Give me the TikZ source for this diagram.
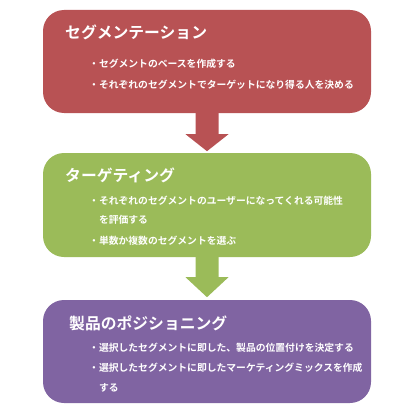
\documentclass[tikz,border=0pt]{standalone}
\usepackage{fontspec}
\newfontfamily\jp{Noto Sans CJK JP}[BoldFont={* Bold}]
\definecolor{segred}{HTML}{B85254}
\definecolor{tgtgreen}{HTML}{9BBB59}
\definecolor{pospurple}{HTML}{8064A2}
\begin{document}
\begin{tikzpicture}[x=1pt,y=-1pt,
  stagebox/.style={rounded corners=21pt, minimum width=328pt, minimum height=103pt, inner sep=0pt, draw=none},
  titletext/.style={anchor=west, inner sep=0pt, text=white, font=\jp\bfseries\fontsize{15.8}{18}\selectfont},
  itemtext/.style={anchor=west, inner sep=0pt, text=white, font=\jp\bfseries\fontsize{9.8}{12}\selectfont}]
\useasboundingbox (0,0) rectangle (408,417);
% boxes
\node[stagebox, fill=segred] (b1) at (207,61.5) {};
\node[stagebox, fill=tgtgreen, minimum height=104pt] (b2) at (207,205) {};
\node[stagebox, fill=pospurple] (b3) at (207,351.5) {};
% arrows
\fill[segred] ([xshift=-11.5pt]b1.south) -- ++(0,21) -- ++(-10,0) -- ++(21.5,17) -- ++(21.5,-17) -- ++(-10,0) -- ++(0,-21) -- cycle;
\fill[tgtgreen] ([xshift=-11.5pt]b2.south) -- ++(0,20) -- ++(-10,0) -- ++(21.5,20) -- ++(21.5,-20) -- ++(-10,0) -- ++(0,-20) -- cycle;
% texts box1
\node[titletext] (t1) at (65,32) {セグメンテーション};
\node[itemtext] (t1a) at (89,64) {・セグメントのベースを作成する};
\node[itemtext] (t1b) at (89,85) {・それぞれのセグメントでターゲットになり得る人を決める};
% texts box2
\node[titletext] (t2) at (65,175) {ターゲティング};
\node[itemtext] (t2a) at (89,201) {・それぞれのセグメントのユーザーになってくれる可能性};
\node[itemtext] (t2b) at (98.8,220) {を評価する};
\node[itemtext] (t2c) at (89,241) {・単数か複数のセグメントを選ぶ};
% texts box3
\node[titletext] (t3) at (69,323) {製品のポジショニング};
\node[itemtext] (t3a) at (89,348) {・選択したセグメントに即した、製品の位置付けを決定する};
\node[itemtext] (t3b) at (89,368) {・選択したセグメントに即したマーケティングミックスを作成};
\node[itemtext] (t3c) at (98.8,388) {する};
\end{tikzpicture}
\end{document}
